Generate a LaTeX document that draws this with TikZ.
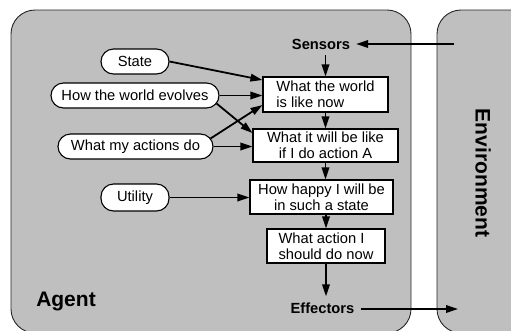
\documentclass[tikz,border=0pt]{standalone}
\usepackage{fontspec}
\setmainfont{Liberation Sans}
\usetikzlibrary{arrows.meta}

\definecolor{panel}{RGB}{191,191,191}

\tikzset{
  frame/.style={draw=black!85, line width=0.9pt, fill=panel, rounded corners=24pt},
  stepbox/.style={draw=black, line width=1.1pt, fill=white, inner sep=0pt,
    font=\fontsize{14.7}{15.7}\selectfont},
  knowledge/.style={draw=black, line width=1.1pt, fill=white, rounded corners=12.5pt,
    inner sep=0pt, minimum height=25pt, font=\fontsize{14.7}{15.7}\selectfont},
  port/.style={inner sep=6pt, font=\fontsize{14.7}{15.7}\selectfont\bfseries},
  biglabel/.style={inner sep=0pt, font=\fontsize{21}{24}\selectfont\bfseries},
  flow/.style={line width=1.8pt, -{Triangle[length=12pt,width=7.5pt]}},
}

\begin{document}
\begin{tikzpicture}[x=1pt,y=-1pt]
  \useasboundingbox (0,0) rectangle (511,330);

  % agent and environment panels
  \draw[frame] (11,10) rectangle (411,333);
  \draw[frame] (437,10) rectangle (535,333);

  \node[biglabel] (agent) at (66,301) {Agent};
  \node[biglabel, rotate=-90] (env) at (483,173) {Environment};

  % perception / decision chain
  \node[port] (sensors) at (321,44) {Sensors};
  \node[stepbox, minimum width=125pt, minimum height=35pt, align=left]
    (now) at (325.5,94.5) {What the world\\is like now};
  \node[stepbox, minimum width=145pt, minimum height=33pt, align=center]
    (future) at (325.5,145.5) {What it will be like\\if I do action A};
  \node[stepbox, minimum width=143pt, minimum height=34pt, align=center]
    (happy) at (321.5,197) {How happy I will be\\in such a state};
  \node[stepbox, minimum width=118pt, minimum height=34pt, align=left]
    (action) at (326,246) {What action I\\should do now};
  \node[port] (effectors) at (322.5,308) {Effectors};

  % internal knowledge
  \node[knowledge, minimum width=68pt] (state) at (135,61.5) {State};
  \node[knowledge, minimum width=168pt] (evolves) at (135,95.5) {How the world evolves};
  \node[knowledge, minimum width=155pt] (actions) at (135.5,146.5) {What my actions do};
  \node[knowledge, minimum width=68pt, minimum height=27pt] (utility) at (135,197.5) {Utility};

  % connections to the environment
  \coordinate (percept) at (454,44);
  \coordinate (act) at (458,309);
  \draw[flow] (percept) -- (sensors.east);
  \draw[flow] (effectors.east |- act) -- (act);

  % main chain
  \draw[flow] (now.north |- sensors.south) -- (now.north);
  \draw[flow] (now.south) -- (future.north);
  \draw[flow] (future.south) -- (future.south |- happy.north);
  \draw[flow] (action.north |- happy.south) -- (action.north);
  \draw[flow] (action.south) -- (action.south |- effectors.north);

  % knowledge feeding the chain
  \draw[flow] (state.east) -- ([yshift=14.5pt]now.west);
  \draw[flow] (evolves.east) -- (evolves.east -| now.west);
  \draw[flow] ([xshift=-3pt,yshift=-8pt]evolves.east) -- ([yshift=12.5pt]future.west);
  \draw[flow] ([xshift=-3pt,yshift=8pt]actions.east) -- ([yshift=-10.5pt]now.west);
  \draw[flow] (actions.east) -- (actions.east -| future.west);
  \draw[flow] (utility.east) -- (utility.east -| happy.west);
\end{tikzpicture}
\end{document}
